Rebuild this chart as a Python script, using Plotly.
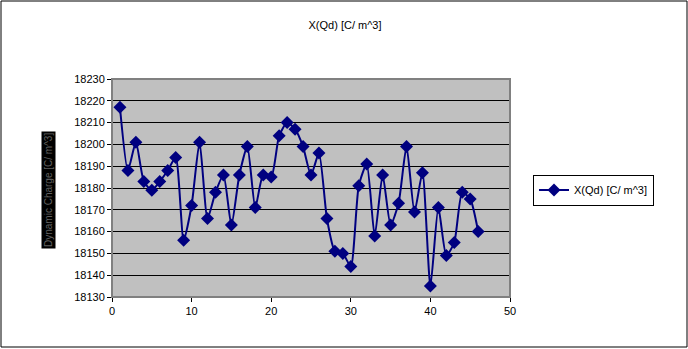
import plotly.graph_objects as go

x_vals = list(range(1, 47))
y_vals = [18217, 18188, 18201, 18183, 18179, 18183, 18188, 18194, 18156, 18172,
          18201, 18166, 18178, 18186, 18163, 18186, 18199, 18171, 18186, 18185,
          18204, 18210, 18207, 18199, 18186, 18196, 18166, 18151, 18150, 18144,
          18181, 18191, 18158, 18186, 18163, 18173, 18199, 18169, 18187, 18135,
          18171, 18149, 18155, 18178, 18175, 18160]
series_name = "X(Qd) [C/ m^3]"
title_text = "X(Qd) [C/ m^3]"
y_label = "Dynamic Charge [C/ m^3]"

W, H = 688, 349
L, R, T, B = 112, 178, 79, 52
pw, ph = W - L - R, H - T - B

fig = go.Figure()
fig.add_trace(go.Scatter(
    x=x_vals, y=y_vals, mode="lines+markers", name=series_name,
    line=dict(color="#000080", width=2, shape="spline", smoothing=0.6),
    marker=dict(symbol="diamond", size=10, color="#000080"),
))

fig.update_layout(
    width=W, height=H,
    margin=dict(l=L, r=R, t=T, b=B),
    paper_bgcolor="white", plot_bgcolor="#C0C0C0",
    font=dict(family="Arial, Liberation Sans", size=11, color="black"),
    title=dict(text=title_text, x=(345 - L) / pw, xref="paper", y=1 - 25 / H,
               xanchor="center", yanchor="middle", font=dict(size=11)),
    showlegend=True,
    legend=dict(x=(533 - L) / pw, y=(297 - 190) / ph, xanchor="left", yanchor="middle",
                bordercolor="black", borderwidth=1, bgcolor="white",
                font=dict(size=11)),
    xaxis=dict(range=[0, 50], tickvals=[0, 10, 20, 30, 40, 50], showgrid=False,
               zeroline=False, ticks="outside", ticklen=4, tickcolor="black",
               showline=False),
    yaxis=dict(range=[18130, 18230], dtick=10, tickformat="d", showgrid=True,
               gridcolor="black", gridwidth=1, zeroline=False, ticks="outside",
               ticklen=4, tickcolor="black", showline=False),
)

# plot area border
fig.add_shape(type="rect", xref="paper", yref="paper", x0=0, y0=0, x1=1, y1=1,
              line=dict(color="#808080", width=2), layer="above")
# outer chart border
fig.add_shape(type="rect", xref="paper", yref="paper",
              x0=(1 - L) / pw, x1=(687 - L) / pw,
              y0=(H - B - 347) / ph, y1=(H - B - 1) / ph,
              line=dict(color="black", width=1))

fig.add_annotation(text=y_label, xref="paper", yref="paper",
                   x=(48 - L) / pw, y=(297 - 190) / ph, textangle=-90,
                   showarrow=False, bgcolor="black",
                   font=dict(color="#606060", size=10), xanchor="center", yanchor="middle")

fig.write_html("out.html")
